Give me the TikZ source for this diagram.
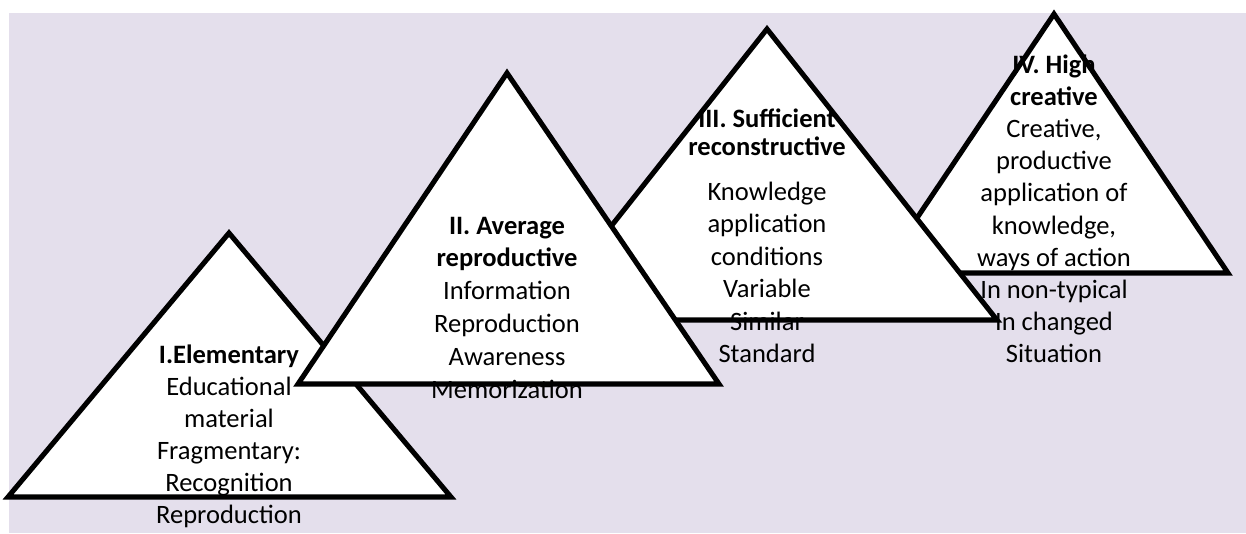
\documentclass[tikz,border=0pt]{standalone}
\usepackage{fontspec}
\setmainfont{Carlito}
\definecolor{lav}{HTML}{E4DFEC}
\begin{document}
\begin{tikzpicture}[x=0.75pt,y=-0.75pt,
  trifill/.style={fill=white},
  triline/.style={draw=black,line width=3.8pt,line join=miter},
  lbl/.style={anchor=base,inner sep=0pt,font=\fontsize{19.9}{24}\selectfont},
  ttl/.style={anchor=base,inner sep=0pt,font=\fontsize{19.9}{24}\selectfont\bfseries}]
\useasboundingbox (0,0) rectangle (1246,533);
\fill[lav] (9,13) rectangle (1246,533);
% corner coordinates
\coordinate (Ia) at (229,233); \coordinate (Ib) at (8,497);   \coordinate (Ic) at (451,497);
\coordinate (IIa) at (507,73); \coordinate (IIb) at (298,384); \coordinate (IIc) at (719,384);
\coordinate (IIIa) at (767,29); \coordinate (IIIb) at (537,320); \coordinate (IIIc) at (997,320);
\coordinate (IVa) at (1054,14); \coordinate (IVb) at (880,273); \coordinate (IVc) at (1228,273);
% ---- IV
\fill[trifill] (IVa) -- (IVb) -- (IVc) -- cycle;
\node[ttl] (t4a) at (1054,73) {IV. High};
\node[ttl] (t4b) at (1054,105.2) {creative};
\node[lbl] (t4c) at (1054,137.4) {Creative,};
\node[lbl] (t4d) at (1054,169.6) {productive};
\node[lbl] (t4e) at (1054,201.8) {application of};
\node[lbl] (t4f) at (1054,234) {knowledge,};
\node[lbl] (t4g) at (1054,266.2) {ways of action};
\node[lbl] (t4h) at (1054,298.4) {In non-typical};
\node[lbl] (t4i) at (1054,330.6) {In changed};
\node[lbl] (t4j) at (1054,362.8) {Situation};
\draw[triline] (IVa) -- (IVb) -- (IVc) -- cycle;
% ---- III
\fill[trifill] (IIIa) -- (IIIb) -- (IIIc) -- cycle;
\node[ttl] (t3a) at (767,127) {III. Sufficient};
\node[ttl] (t3b) at (767,155) {reconstructive};
\node[lbl] (t3c) at (767,200) {Knowledge};
\node[lbl] (t3d) at (767,232.5) {application};
\node[lbl] (t3e) at (767,265) {conditions};
\node[lbl] (t3f) at (767,297.5) {Variable};
\node[lbl] (t3g) at (767,330) {Similar};
\node[lbl] (t3h) at (767,362.5) {Standard};
\draw[triline] (IIIa) -- (IIIb) -- (IIIc) -- cycle;
% ---- I
\fill[trifill] (Ia) -- (Ib) -- (Ic) -- cycle;
\node[ttl] (t1a) at (229,363) {I.Elementary};
\node[lbl] (t1b) at (229,395) {Educational};
\node[lbl] (t1c) at (229,427) {material};
\node[lbl] (t1d) at (229,459) {Fragmentary:};
\node[lbl] (t1e) at (229,491) {Recognition};
\node[lbl] (t1f) at (229,523) {Reproduction};
\draw[triline] (Ia) -- (Ib) -- (Ic) -- cycle;
% ---- II
\fill[trifill] (IIa) -- (IIb) -- (IIc) -- cycle;
\node[ttl] (t2a) at (507,234) {II. Average};
\node[ttl] (t2b) at (507,266.8) {reproductive};
\node[lbl] (t2c) at (507,299.6) {Information};
\node[lbl] (t2d) at (507,332.4) {Reproduction};
\node[lbl] (t2e) at (507,365.2) {Awareness};
\node[lbl] (t2f) at (507,398) {Memorization};
\draw[triline] (IIa) -- (IIb) -- (IIc) -- cycle;
\end{tikzpicture}
\end{document}
